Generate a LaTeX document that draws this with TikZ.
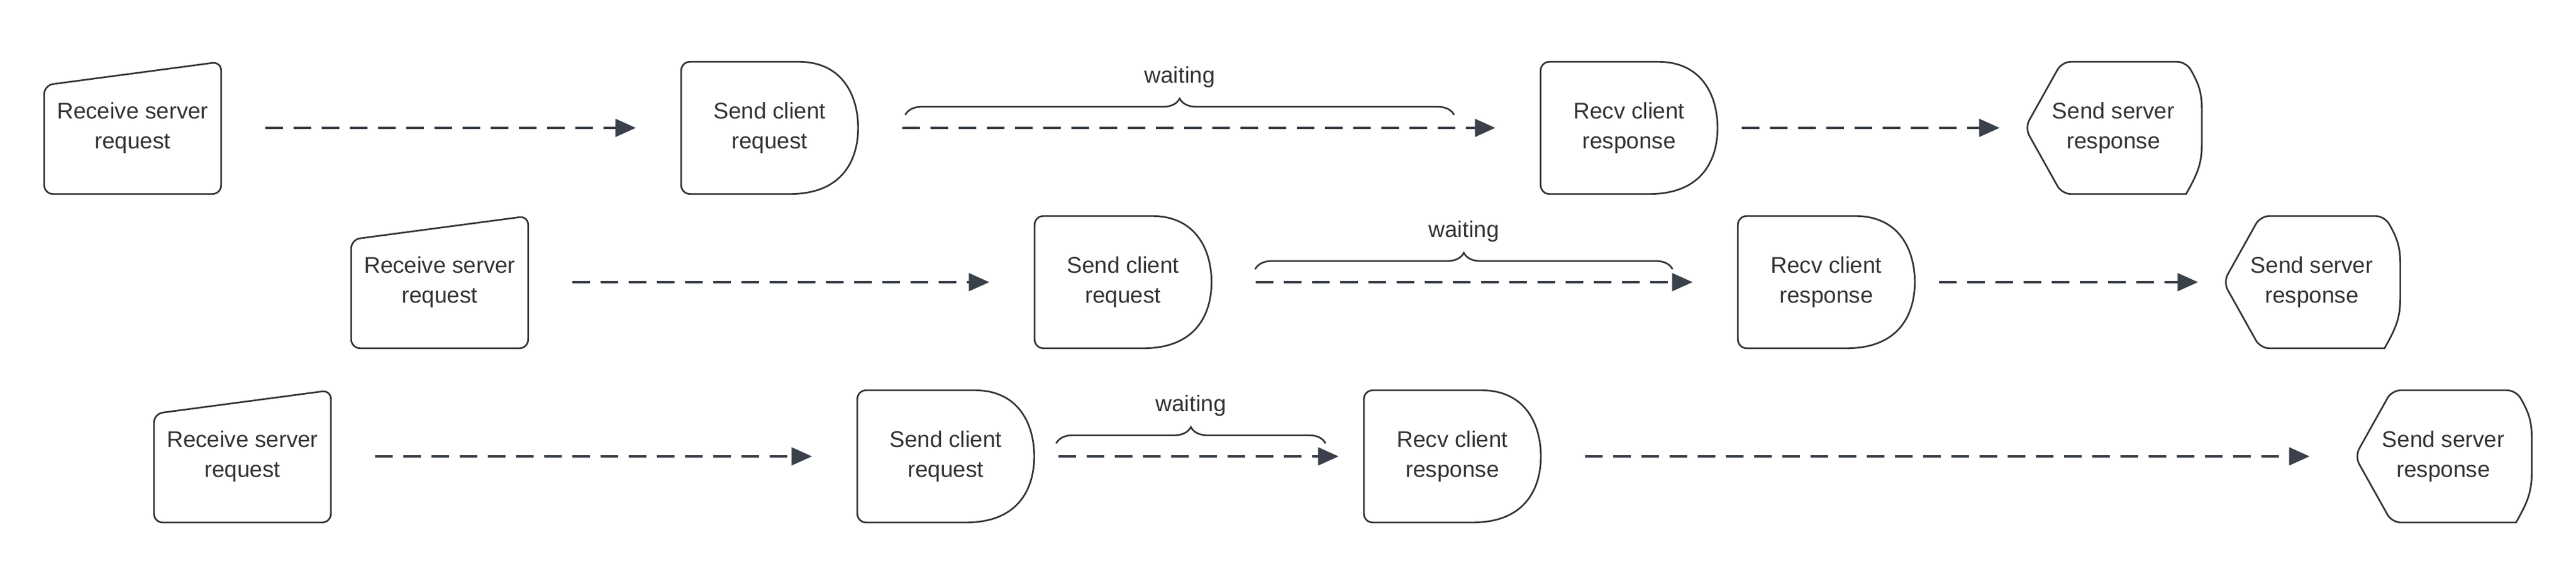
\documentclass[tikz,border=0pt]{standalone}
\usepackage{fontspec}
\setmainfont{Liberation Sans}
\usetikzlibrary{calc,arrows.meta,decorations.pathreplacing}

\definecolor{lineLC}{HTML}{3a414a}
\definecolor{edgeLC}{HTML}{333333}

\tikzset{
  box/.style={minimum width=3cm, minimum height=2.24cm, inner sep=0pt, align=center,
    font=\fontsize{11}{14.3}\selectfont, text=edgeLC},
  outline/.style={edgeLC, line width=0.8pt, rounded corners=0.15cm},
  flow/.style={lineLC, line width=1.4pt, dash pattern=on 0.3cm off 0.18cm,
    shorten <=0.75cm, shorten >=0.77cm, -{Triangle[length=0.35cm,width=0.3cm]}},
  short/.style={shorten <=0.41cm, shorten >=0.43cm},
  wait/.style={edgeLC, line width=0.8pt, decorate,
    decoration={brace, amplitude=0.28cm}},
}

% shapes drawn round named nodes
\newcommand{\rcvshape}[1]{\draw[outline] (#1.south west) -- ($(#1.north west)+(0,-0.4)$) -- (#1.north east) -- (#1.south east) -- cycle;}
\newcommand{\delayshape}[1]{\draw[outline] (#1.south west) -- (#1.north west) -- ($(#1.north west)+(1.85,0)$)
  [sharp corners] .. controls ($(#1.north east)+(-0.25,0)$) and ($(#1.north east)+(0,-0.6)$) .. (#1.east)
  .. controls ($(#1.south east)+(0,0.6)$) and ($(#1.south east)+(-0.25,0)$) .. ($(#1.south west)+(1.85,0)$)
  [rounded corners=0.15cm] -- cycle;}
\newcommand{\dispshape}[1]{\draw[outline] (#1.west) -- ($(#1.north west)+(0.63,0)$) -- ($(#1.north east)+(-0.27,0)$)
  [sharp corners] .. controls ($(#1.north east)+(0.02,-0.5)$) and ($(#1.east)+(0,0.5)$) .. (#1.east)
  .. controls ($(#1.east)+(0,-0.5)$) and ($(#1.south east)+(0.02,0.5)$) .. ($(#1.south east)+(-0.27,0)$)
  [rounded corners=0.15cm] -- ($(#1.south west)+(0.63,0)$) -- cycle;}

\begin{document}
\begin{tikzpicture}
\useasboundingbox (0,0) rectangle (43.88,9.69);

% row one
\node[box] (rcvA) at (2.26,7.51) {Receive server\\request};
\node[box] (sndA) at (13.11,7.51) {Send client\\request};
\node[box] (recA) at (27.75,7.51) {Recv client\\response};
\node[box] (ssrA) at (36.00,7.51) {Send server\\response};

% row two
\node[box] (rcvB) at (7.49,4.88) {Receive server\\request};
\node[box] (sndB) at (19.13,4.88) {Send client\\request};
\node[box] (recB) at (31.11,4.88) {Recv client\\response};
\node[box] (ssrB) at (39.38,4.88) {Send server\\response};

% row three
\node[box] (rcvC) at (4.13,1.91) {Receive server\\request};
\node[box] (sndC) at (16.11,1.91) {Send client\\request};
\node[box] (recC) at (24.74,1.91) {Recv client\\response};
\node[box] (ssrC) at (41.62,1.91) {Send server\\response};

\foreach \r in {A,B,C} {
  \rcvshape{rcv\r}
  \delayshape{snd\r}
  \delayshape{rec\r}
  \dispshape{ssr\r}
  \draw[flow] (rcv\r) -- (snd\r);
}
\draw[flow] (sndA) -- (recA);
\draw[flow] (sndB) -- (recB);
\draw[flow, short] (sndC) -- (recC);
\draw[flow, short] (recA) -- (ssrA);
\draw[flow, short] (recB) -- (ssrB);
\draw[flow] (recC) -- (ssrC);

% waiting braces
\foreach \r/\a/\b/\y in {A/15.42/24.77/7.73, B/21.38/28.49/5.10, C/17.99/22.58/2.13} {
  \coordinate (wl\r) at (\a,\y);
  \coordinate (wr\r) at (\b,\y);
  \draw[wait] (wl\r) -- (wr\r) node[midway, above=0.42cm, inner sep=1pt, text=edgeLC,
    font=\fontsize{11}{14.3}\selectfont] (wt\r) {waiting};
}
\end{tikzpicture}
\end{document}
